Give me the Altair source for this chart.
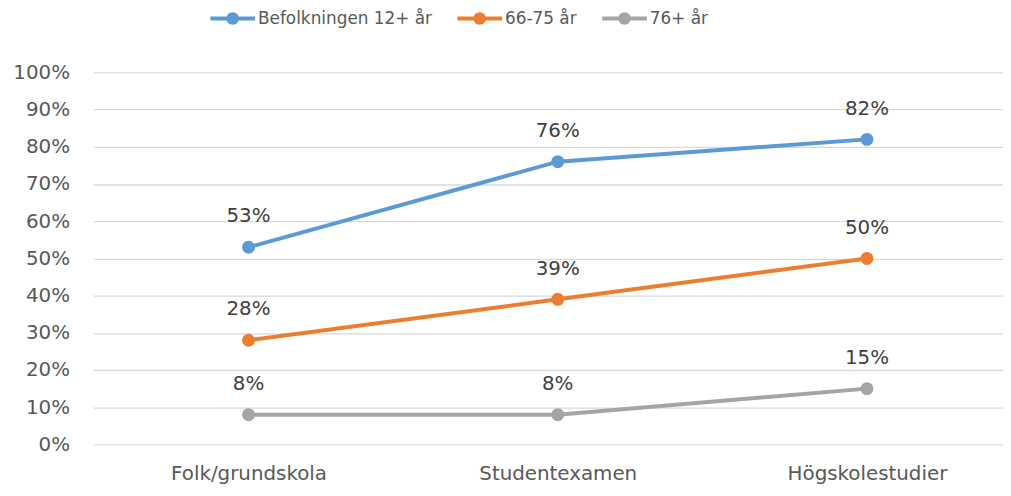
import altair as alt
import pandas as pd

categories = ["Folk/grundskola", "Studentexamen", "Högskolestudier"]
series_names = ["Befolkningen 12+ år", "66-75 år", "76+ år"]
befolkningen = [0.53, 0.76, 0.82]
age_66_75 = [0.28, 0.39, 0.50]
age_76 = [0.08, 0.08, 0.15]
colors = ["#5B9BD5", "#ED7D31", "#A5A5A5"]

rows = []
for name, vals in zip(series_names, [befolkningen, age_66_75, age_76]):
    for i, (c, v) in enumerate(zip(categories, vals)):
        rows.append({"idx": i, "cat": c, "series": name, "value": v})
df = pd.DataFrame(rows)

FONT = "DejaVu Sans"
sym_path = "M-1,-0.09L1,-0.09L1,0.09L-1,0.09Z M-0.28,0A0.28,0.28,0,1,1,0.28,0A0.28,0.28,0,1,1,-0.28,0Z"

label_expr = " : ".join(
    [f"datum.value == {i} ? '{c}'" for i, c in enumerate(categories)] + ["''"])

x_enc = alt.X("idx:Q", scale=alt.Scale(domain=[-0.502, 2.44], nice=False, zero=False),
              axis=alt.Axis(title=None, values=list(range(len(categories))),
                            labelExpr=label_expr, labelAngle=0, ticks=False, domain=False,
                            grid=False, labelFont=FONT, labelFontSize=20,
                            labelColor="#595959", labelPadding=19))
y_enc = alt.Y("value:Q", scale=alt.Scale(domain=[0, 1], nice=False),
              axis=alt.Axis(title=None, format=".0%", values=[i / 10 for i in range(11)],
                            ticks=False, domain=False, gridColor="#D9D9D9",
                            gridWidth=1.3, labelFont=FONT, labelFontSize=20,
                            labelColor="#595959", labelPadding=24))
legend = alt.Legend(title=None, orient="none", direction="horizontal",
                    legendX=118, legendY=-77,
                    symbolType=sym_path, symbolSize=2025,
                    symbolStrokeWidth=0, labelFont=FONT,
                    labelFontSize=17, labelColor="#595959", labelLimit=0,
                    labelOffset=3, columnPadding=25)
color_scale = alt.Scale(domain=series_names, range=colors)

base = alt.Chart(df)
lines = base.mark_line(strokeWidth=4).encode(
    x=x_enc, y=y_enc,
    color=alt.Color("series:N", sort=series_names, scale=color_scale, legend=legend))
points = base.mark_point(filled=True, size=170, opacity=1).encode(
    x=x_enc, y=y_enc,
    color=alt.Color("series:N", sort=series_names, scale=color_scale, legend=legend))
labels = base.mark_text(baseline="alphabetic", align="center", dy=-25, font=FONT,
                        fontSize=20, color="#404040").encode(
    x=x_enc, y=y_enc, text=alt.Text("value:Q", format=".0%"))

chart = alt.layer(lines, points, labels).properties(
    width=917, height=375,
    autosize=alt.AutoSizeParams(type="none"),
    padding={"left": 86, "top": 63, "right": 0, "bottom": 42},
).configure_view(stroke=None)

chart.save("out.html", embed_options={"renderer": "svg", "actions": False})
